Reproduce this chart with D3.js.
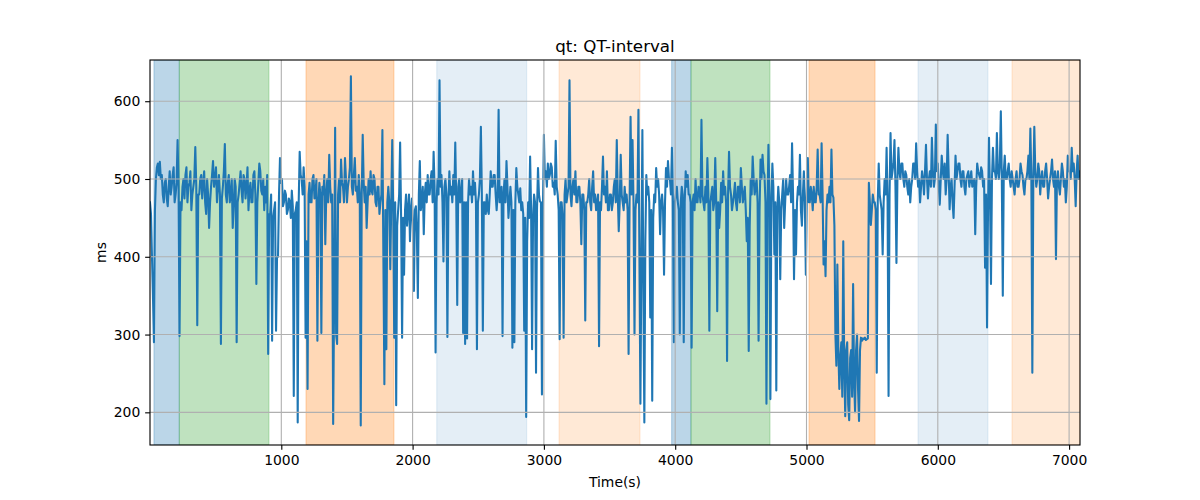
<!DOCTYPE html>
<html>
<head>
<meta charset="utf-8">
<script src="https://cdn.jsdelivr.net/npm/d3@7"></script>
<style>
  html, body { margin: 0; padding: 0; background: #fff; }
  svg { display: block; }
  text { font-family: "DejaVu Sans", sans-serif; fill: #000; }
</style>
</head>
<body>
<svg id="chart" width="1200" height="500"></svg>
<script>
// ---- data ----
const chartTitle = "qt: QT-interval";
const xLabel = "Time(s)";
const yLabel = "ms";
const xTicks = [1000, 2000, 3000, 4000, 5000, 6000, 7000];
const yTicks = [200, 300, 400, 500, 600];
const xDomain = [0, 7083];
const yDomain = [158, 653];

// sample times: one value every 7.5 s starting at 0 s
const sampleStart = 0;
const sampleStep = 7.5;

const qtPart1 = [
  470,455, 400,350, 290,460, 500,515, 520,505, 522,500, 505,480, 470,495, 500,475, 465,490,
  510,480, 490,505, 515,470, 480,495, 550,490, 298,470, 460,490, 500,475, 505,515, 470,490,
  495,510, 460,480, 490,500, 541,490, 312,480, 480,500, 505,475, 495,510, 470,455, 500,480,
  437,470, 490,505, 523,490, 500,515, 470,490, 505,480, 288,475, 490,510, 545,480, 470,495,
  505,470, 480,500, 437,465, 500,490, 290,470, 480,495, 510,485, 470,505, 500,475, 490,515,
  460,485, 495,470, 470,505, 510,480, 365,470, 495,520, 510,485, 480,500, 460,490, 470,505,
  275,455, 455,480, 292,450, 460,470, 305,400, 400,480, 527,495, 500,465, 470,485, 480,455,
  460,475, 470,450, 485,465, 221,455, 460,470, 187,470, 535,505, 500,480, 515,490, 296,420,
  230,480
];
const qtPart2 = [
  495,470, 470,500, 505,475, 480,500, 292,470, 495,480, 302,490, 480,505, 416,480, 500,470,
  531,490, 470,480, 185,350, 566,300, 288,480, 500,470, 525,495, 490,470, 527,500, 470,490,
  500,515, 632,490, 480,505, 527,485, 490,470, 505,480, 183,480, 557,495, 470,490, 437,470,
  500,480, 510,485, 480,505, 500,470, 465,490, 490,455, 470,480, 563,400, 236,460, 281,470,
  490,470, 384,470, 550,460, 296,470, 209,440, 460,480, 547,450, 296,450, 377,460, 480,440,
  460,480, 420,460, 475,440, 356,460, 465,430, 347,480, 523,460, 470,490, 429,480, 495,470,
  505,480, 480,500, 510,470, 535,490, 277,470, 500,480, 627,490, 505,470, 394,490, 500,480,
  297,470, 510,480, 490,470, 505,480, 547,470, 338,490, 500,470, 480,500, 302,470
];
const qtPart3 = [
  288,470, 295,470, 500,480, 490,470, 510,480, 495,470, 281,470, 480,500, 567,480, 305,470,
  470,455, 480,460, 455,480, 510,490, 490,505, 505,480, 460,480, 589,470, 470,490, 298,480,
  500,470, 523,490, 450,470, 490,470, 283,460, 290,470, 514,490, 480,470, 488,460, 470,455,
  305,450, 194,420, 470,450, 529,460, 281,450, 480,470, 251,460, 514,480, 471,470, 223,460,
  557,500, 510,490, 520,500, 505,520, 515,490, 495,480, 549,490, 480,460, 294,470, 470,450,
  296,480, 500,470, 480,490, 627,480, 465,490, 500,480, 510,470, 470,490, 490,470, 416,480,
  480,460, 318,470, 470,480, 500,470, 460,490, 510,470, 480,460, 470,480, 285,470, 460,490,
  529,480, 490,470, 510,460, 460,480, 480,460, 470,490, 500,470, 550,480, 433,470
];
const qtPart4 = [
  531,480, 470,460, 490,470, 480,460, 275,470, 580,480, 550,470, 300,460, 480,470, 589,400,
  211,400, 563,360, 187,420, 505,480, 490,470, 322,460, 215,450, 480,470, 514,490, 500,480,
  429,470, 480,460, 377,470, 514,490, 523,500, 500,480, 540,470, 290,470, 480,490, 470,460,
  300,470, 490,480, 290,470, 510,490, 505,480, 480,470, 283,470, 480,460, 500,470, 470,490,
  485,470, 576,480, 470,460, 490,470, 527,480, 305,470, 480,490, 460,470, 527,470, 330,470,
  437,460, 495,470, 510,480, 490,470, 266,480, 535,490, 480,460, 470,480, 495,470, 460,490,
  490,470, 514,490, 470,480, 490,460, 420,450, 279,440, 500,480, 529,500, 480,490, 500,470,
  292,460, 525,500, 531,510, 505,470, 211,460, 544,480, 217,470, 520,490
];
const qtPart5 = [
  403,470, 228,460, 490,470, 371,460, 480,500, 437,470, 500,480, 480,490, 505,470, 546,480,
  371,460, 403,470, 490,480, 531,460, 440,480, 510,470, 377,480, 527,470, 470,490, 480,460,
  490,470, 470,490, 538,480, 480,470, 546,480, 390,420, 375,460, 480,470, 490,470, 538,480,
  476,440, 300,260, 390,280, 230,270, 290,220, 420,260, 195,280, 290,210, 190,270, 280,220,
  365,240, 200,280, 300,230, 189,280, 296,292, 295,294, 296,293, 294,295, 495,470, 441,460,
  480,470, 470,460, 251,470, 520,480, 470,460, 403,470, 500,480, 540,470, 221,480, 559,500,
  510,520, 550,490, 392,500, 540,510, 500,520, 520,500, 490,510, 505,490, 480,500, 470,490,
  500,520, 520,500, 546,510, 490,500, 470,490, 510,500, 480,510, 544,500
];
const qtPart6 = [
  475,500, 510,490, 553,510, 490,500, 570,510, 520,490, 467,500, 530,510, 500,520, 480,500,
  557,510, 461,490, 500,470, 450,490, 530,500, 510,520, 520,500, 490,510, 510,490, 480,500,
  505,510, 490,500, 510,490, 495,500, 429,490, 520,510, 505,500, 515,510, 490,500, 386,480,
  309,460, 553,480, 365,500, 540,510, 510,500, 559,510, 500,520, 587,500, 350,510, 530,500,
  500,510, 520,500, 490,510, 500,490, 480,500, 510,490, 490,500, 520,510, 505,490, 480,500,
  500,510, 530,500, 565,500, 251,500, 567,510, 490,500, 520,510, 480,500, 510,490, 490,510,
  520,500, 475,490, 500,510, 525,500, 490,510, 397,500, 510,490, 480,500, 520,510, 490,500,
  470,490, 530,510, 510,500, 540,510, 520,500, 465,510, 530,500, 510
];

// shaded spans: [start, end] in seconds and their kind
const spanStarts = [30, 223, 1188, 2184, 3115, 3973, 4120, 5019, 5849, 6565];
const spanEnds   = [223, 906, 1858, 2869, 3732, 4120, 4722, 5522, 6382, 7083];
const spanKinds  = ["blue", "green", "orange", "blueLight", "orangeLight",
                    "blue", "green", "orange", "blueLight", "orangeLight"];

// ---- styles ----
const spanStyle = {
  blue:        { color: "#1f77b4", opacity: 0.3 },
  green:       { color: "#2ca02c", opacity: 0.3 },
  orange:      { color: "#ff7f0e", opacity: 0.3 },
  blueLight:   { color: "#1f77b4", opacity: 0.12 },
  orangeLight: { color: "#ff7f0e", opacity: 0.17 }
};
const PT = 100 / 72; // matplotlib points -> px at 100 dpi

const margin = { left: 150, right: 120, top: 60, bottom: 55 };
const W = 1200, H = 500;
const plotW = W - margin.left - margin.right;   // 930
const plotH = H - margin.top - margin.bottom;   // 385

const qtValues = [].concat(qtPart1, qtPart2, qtPart3, qtPart4, qtPart5, qtPart6);
const series = qtValues.map((v, i) => ({ t: sampleStart + i * sampleStep, v }));
const spans = spanStarts.map((s, i) => ({ s, e: spanEnds[i], kind: spanKinds[i] }));

const svg = d3.select("#chart");
svg.append("rect").attr("width", W).attr("height", H).attr("fill", "#fff");

const x = d3.scaleLinear().domain(xDomain).range([margin.left, margin.left + plotW]);
const y = d3.scaleLinear().domain(yDomain).range([margin.top + plotH, margin.top]);

svg.append("defs").append("clipPath").attr("id", "clip")
  .append("rect").attr("x", margin.left).attr("y", margin.top)
  .attr("width", plotW).attr("height", plotH);

const plot = svg.append("g").attr("clip-path", "url(#clip)");

// spans
plot.selectAll("rect.span").data(spans).enter().append("rect")
  .attr("class", "span")
  .attr("x", d => x(d.s))
  .attr("width", d => x(d.e) - x(d.s))
  .attr("y", margin.top)
  .attr("height", plotH)
  .attr("fill", d => spanStyle[d.kind].color)
  .attr("fill-opacity", d => spanStyle[d.kind].opacity)
  .attr("stroke", d => spanStyle[d.kind].color)
  .attr("stroke-opacity", d => spanStyle[d.kind].opacity)
  .attr("stroke-width", 1);

// grid
const grid = svg.append("g");
grid.selectAll("line.gx").data(xTicks).enter().append("line")
  .attr("x1", d => x(d)).attr("x2", d => x(d))
  .attr("y1", margin.top).attr("y2", margin.top + plotH)
  .attr("stroke", "#b0b0b0").attr("stroke-width", 0.8 * PT);
grid.selectAll("line.gy").data(yTicks).enter().append("line")
  .attr("y1", d => y(d)).attr("y2", d => y(d))
  .attr("x1", margin.left).attr("x2", margin.left + plotW)
  .attr("stroke", "#b0b0b0").attr("stroke-width", 0.8 * PT);

// line
const line = d3.line().x(d => x(d.t)).y(d => y(d.v));
plot.append("path").datum(series)
  .attr("d", line)
  .attr("fill", "none")
  .attr("stroke", "#1f77b4")
  .attr("stroke-width", 1.5 * PT)
  .attr("stroke-linejoin", "round")
  .attr("stroke-linecap", "square");

// axes
const xAxis = d3.axisBottom(x).tickValues(xTicks).tickSize(3.5 * PT).tickPadding(3.5 * PT).tickFormat(d3.format("d"));
const yAxis = d3.axisLeft(y).tickValues(yTicks).tickSize(3.5 * PT).tickPadding(3.5 * PT).tickFormat(d3.format("d"));

const gx = svg.append("g").attr("transform", `translate(0,${margin.top + plotH})`).call(xAxis);
const gy = svg.append("g").attr("transform", `translate(${margin.left},0)`).call(yAxis);
[gx, gy].forEach(g => {
  g.select(".domain").remove();
  g.selectAll(".tick line").attr("stroke", "#000").attr("stroke-width", 0.8 * PT);
  g.selectAll(".tick text").attr("font-size", "13.9px").attr("font-family", "DejaVu Sans, sans-serif").attr("fill", "#000");
});

// frame
svg.append("rect")
  .attr("x", margin.left).attr("y", margin.top)
  .attr("width", plotW).attr("height", plotH)
  .attr("fill", "none").attr("stroke", "#000").attr("stroke-width", 0.8 * PT);

// labels
svg.append("text").attr("x", margin.left + plotW / 2).attr("y", 52)
  .attr("text-anchor", "middle").attr("font-size", "16.7px").text(chartTitle);
svg.append("text").attr("x", margin.left + plotW / 2).attr("y", 487)
  .attr("text-anchor", "middle").attr("font-size", "13.9px").text(xLabel);
svg.append("text")
  .attr("transform", `translate(106,${margin.top + plotH / 2}) rotate(-90)`)
  .attr("text-anchor", "middle").attr("font-size", "13.9px").text(yLabel);
</script>
</body>
</html>
